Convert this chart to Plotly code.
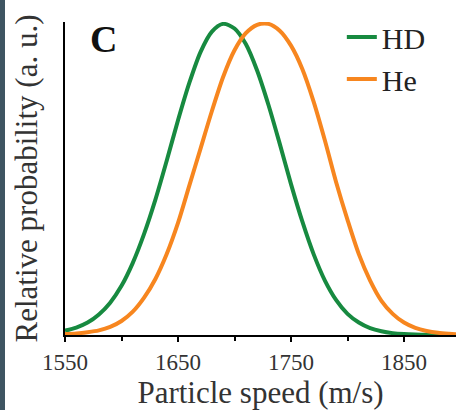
import plotly.graph_objects as go

speed = [1550, 1560, 1570, 1580, 1590, 1600, 1610, 1620, 1630, 1640, 1650, 1660, 1670, 1680,
         1690, 1700, 1710, 1720, 1730, 1740, 1750, 1760, 1770, 1780, 1790, 1800, 1810, 1820,
         1830, 1840, 1850, 1860, 1870, 1880, 1890, 1900]
hd = [0.014, 0.024, 0.040, 0.066, 0.104, 0.158, 0.232, 0.325, 0.435, 0.560, 0.690, 0.810,
      0.910, 0.975, 1.000, 0.985, 0.935, 0.850, 0.740, 0.615, 0.485, 0.365, 0.260, 0.175,
      0.112, 0.068, 0.040, 0.022, 0.012, 0.006, 0.003, 0.0015, 0.0007, 0.0003, 0.0001, 0.0]
he = [0.003, 0.005, 0.009, 0.015, 0.026, 0.045, 0.075, 0.120, 0.180, 0.260, 0.360, 0.480,
      0.600, 0.720, 0.830, 0.915, 0.970, 0.997, 1.000, 0.978, 0.930, 0.855, 0.750, 0.625,
      0.490, 0.370, 0.260, 0.175, 0.110, 0.068, 0.040, 0.023, 0.013, 0.007, 0.004, 0.002]
series_names = ["HD", "He"]
series_colors = ["#178a40", "#f7861f"]
x_ticks = [1550, 1650, 1750, 1850]
x_minor_ticks = [1600, 1700, 1800]
panel_label = "C"

serif = "Times New Roman, Liberation Serif, DejaVu Serif, serif"
fig = go.Figure()
for name, vals, col in zip(series_names, [hd, he], series_colors):
    fig.add_trace(go.Scatter(x=speed, y=vals, mode="lines", name=name,
                             line=dict(color=col, width=4, shape="spline", smoothing=0.8)))

fig.update_layout(
    width=456, height=410,
    margin=dict(l=65, r=0, t=22, b=75),
    paper_bgcolor="white", plot_bgcolor="white",
    font=dict(family=serif, color="#222"),
    legend=dict(x=0.708, y=1.035, xanchor="left", yanchor="top",
                font=dict(family=serif, size=30, color="#222"),
                itemwidth=30, tracegroupgap=0, bgcolor="rgba(0,0,0,0)"),
    xaxis=dict(range=[1550, 1896], tickvals=x_ticks, ticks="outside", ticklen=5, tickwidth=2,
               tickcolor="black", showline=True, linecolor="black", linewidth=2,
               showgrid=False, zeroline=False,
               tickfont=dict(family=serif, size=23, color="#333"),
               minor=dict(tickvals=x_minor_ticks, ticks="outside", ticklen=4,
                          tickwidth=2, tickcolor="black", showgrid=False),
               title=dict(text="Particle speed (m/s)", font=dict(family=serif, size=31, color="#333"),
                          standoff=0)),
    yaxis=dict(range=[0, 1.006], showticklabels=False, ticks="", showline=True,
               linecolor="black", linewidth=2, showgrid=False, zeroline=False,
               title=dict(text="Relative probability (a. u.)",
                          font=dict(family=serif, size=31, color="#333"), standoff=16)),
    annotations=[dict(text="<b>" + panel_label + "</b>", xref="paper", yref="paper",
                      x=0.058, y=1.02, xanchor="left", yanchor="top", showarrow=False,
                      font=dict(family=serif, size=38, color="#111"))],
    shapes=[dict(type="rect", xref="paper", yref="paper", x0=-65 / 391, x1=-60 / 391,
                 y0=-75 / 313, y1=1 + 22 / 313, fillcolor="#3e5562", line=dict(width=0),
                 layer="below")],
)

fig.write_html("out.html", config={"displayModeBar": False},
               post_script="document.body.style.margin='0';document.body.style.overflow='hidden';")
